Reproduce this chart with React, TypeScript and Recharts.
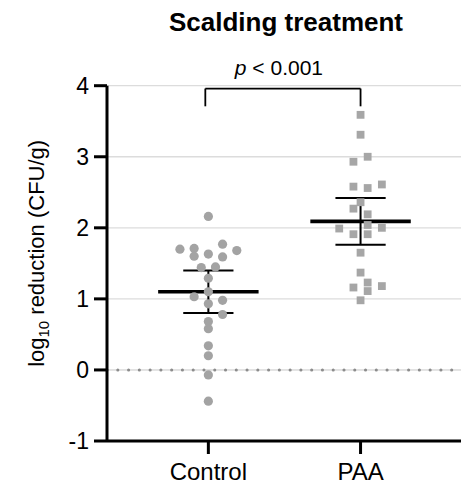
import React from 'react';
import {
  ComposedChart,
  Scatter,
  XAxis,
  YAxis,
  CartesianGrid,
  ReferenceLine,
} from 'recharts';

const categories = ['Control', 'PAA'];
const yTicks = [-1, 0, 1, 2, 3, 4];

const controlValues = [2.16, 1.7, 1.71, 1.77, 1.68, 1.6, 1.63, 1.59, 1.44, 1.45, 1.29, 1.1, 1.03, 0.93, 0.98, 0.78, 0.68, 0.58, 0.34, 0.2, -0.07, -0.44];
const controlSlots = [0, -4, -2, 2, 4, -2, 0, 2, -1, 1, 0, 0, -2, 0, 2, 2, 0, 0, 0, 0, 0, 0];

const paaValues = [3.59, 3.31, 3.0, 2.93, 2.58, 2.56, 2.61, 2.36, 2.27, 2.19, 1.99, 2.04, 2.0, 1.91, 1.91, 1.65, 1.37, 1.23, 1.16, 1.18, 1.11, 0.98];
const paaSlots = [0, 0, 1, -1, -1, 1, 3, 0, -1, 1, -3, 1, 3, -1, 1, 0, 0, 1, -1, 3, 1, 0];

const means = [1.1, 2.09];
const ciLow = [0.8, 1.76];
const ciHigh = [1.4, 2.42];

const pText = '< 0.001';
const bracketTop = 3.96;
const bracketBottom = 3.71;

// layout constants (in x-axis units)
const SLOT = 0.0467;
const MEAN_HALF = 0.33;
const CAP_HALF = 0.165;

const FONT = '"Liberation Sans", Arial, Helvetica, sans-serif';

const controlData = controlValues.map((v, i) => ({ x: 0 + controlSlots[i] * SLOT, y: v }));
const paaData = paaValues.map((v, i) => ({ x: 1 + paaSlots[i] * SLOT, y: v }));

const Dot = (p: any) => <circle cx={p.cx} cy={p.cy} r={4.6} fill="#a3a3a3" />;
const Sq = (p: any) => <rect x={p.cx - 3.9} y={p.cy - 3.9} width={7.8} height={7.8} fill="#a6a6a6" />;

const YLabel = (props: any) => {
  const vb = props.viewBox || { x: 0, y: 0, width: 0, height: 0 };
  const cx = 44;
  const cy = vb.y + vb.height / 2 - 10;
  return (
    <text
      x={cx}
      y={cy}
      transform={`rotate(-90, ${cx}, ${cy})`}
      textAnchor="middle"
      fontSize={22}
      fontFamily={FONT}
      fill="#000"
    >
      log<tspan fontSize={15} dy={5}>10</tspan>
      <tspan dy={-5}> reduction (CFU/g)</tspan>
    </text>
  );
};

const PLabel = (props: any) => {
  const vb = props.viewBox || { x: 0, y: 0, width: 0 };
  const cx = vb.x + (vb.width || 0) / 2 - 4;
  return (
    <text x={cx} y={vb.y - 14} textAnchor="middle" fontSize={21} fontFamily={FONT} fill="#000">
      <tspan fontStyle="italic">p</tspan> {pText}
    </text>
  );
};

export default function App() {
  return (
    <div style={{ position: 'absolute', left: 0, top: 0, width: 461, height: 485, background: '#fff' }}>
      <div
        style={{
          position: 'absolute',
          left: 0,
          width: 572,
          top: 6,
          textAlign: 'center',
          fontFamily: FONT,
          fontWeight: 'bold',
          fontSize: 26,
          lineHeight: '32px',
          color: '#000',
        }}
      >
        Scalding treatment
      </div>
      <ComposedChart width={461} height={485} margin={{ top: 85.7, right: 0, bottom: 0, left: 0 }}>
        <CartesianGrid vertical={false} stroke="#dcdcdc" strokeWidth={1.3} />
        <XAxis
          type="number"
          dataKey="x"
          domain={[-0.666, 1.66]}
          ticks={[0, 1]}
          allowDataOverflow
          tickFormatter={(v: number) => categories[Math.round(v)]}
          tickSize={13}
          tickMargin={9}
          height={44}
          axisLine={{ stroke: '#000', strokeWidth: 3 }}
          tickLine={{ stroke: '#000', strokeWidth: 3 }}
          tick={{ fill: '#000', fontSize: 24, fontFamily: FONT }}
        />
        <YAxis
          type="number"
          dataKey="y"
          domain={[-1, 4]}
          ticks={yTicks}
          allowDataOverflow
          width={107}
          tickSize={13}
          tickMargin={5}
          axisLine={{ stroke: '#000', strokeWidth: 3 }}
          tickLine={{ stroke: '#000', strokeWidth: 3 }}
          tick={{ fill: '#000', fontSize: 23, fontFamily: FONT }}
          label={{ content: <YLabel /> }}
        />
        <ReferenceLine y={0} stroke="#e0e0e0" strokeWidth={1.5} />
        <ReferenceLine y={0} stroke="#8c8c8c" strokeWidth={3} strokeDasharray="0.1 10.67" strokeLinecap="round" />
        <Scatter data={controlData} shape={Dot} isAnimationActive={false} />
        <Scatter data={paaData} shape={Sq} isAnimationActive={false} />
        {means.map((m, i) => (
          <ReferenceLine
            key={'m' + i}
            segment={[{ x: i - MEAN_HALF, y: m }, { x: i + MEAN_HALF, y: m }]}
            stroke="#000"
            strokeWidth={3.6}
          />
        ))}
        {means.map((m, i) => (
          <ReferenceLine
            key={'v' + i}
            segment={[{ x: i, y: ciLow[i] }, { x: i, y: ciHigh[i] }]}
            stroke="#000"
            strokeWidth={2}
          />
        ))}
        {means.map((m, i) => (
          <ReferenceLine
            key={'h' + i}
            segment={[{ x: i - CAP_HALF, y: ciHigh[i] }, { x: i + CAP_HALF, y: ciHigh[i] }]}
            stroke="#000"
            strokeWidth={2}
          />
        ))}
        {means.map((m, i) => (
          <ReferenceLine
            key={'l' + i}
            segment={[{ x: i - CAP_HALF, y: ciLow[i] }, { x: i + CAP_HALF, y: ciLow[i] }]}
            stroke="#000"
            strokeWidth={2}
          />
        ))}
        <ReferenceLine segment={[{ x: -0.02, y: bracketBottom }, { x: -0.02, y: bracketTop }]} stroke="#000" strokeWidth={1.8} />
        <ReferenceLine segment={[{ x: 1, y: bracketBottom }, { x: 1, y: bracketTop }]} stroke="#000" strokeWidth={1.8} />
        <ReferenceLine
          segment={[{ x: -0.02, y: bracketTop }, { x: 1, y: bracketTop }]}
          stroke="#000"
          strokeWidth={1.8}
          label={{ content: <PLabel /> }}
        />
      </ComposedChart>
    </div>
  );
}
